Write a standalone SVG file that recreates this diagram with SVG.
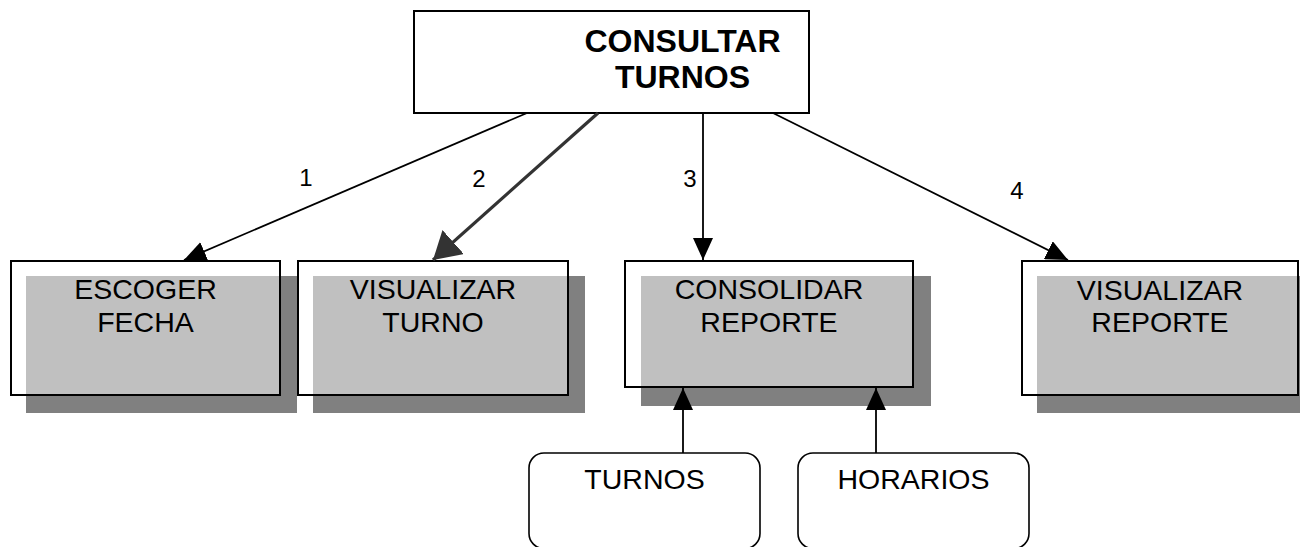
<svg xmlns="http://www.w3.org/2000/svg" width="1300" height="547" viewBox="0 0 1300 547">
<style>
  .shadow { fill: #808080; }
  .light { fill: #c0c0c0; }
  .white { fill: #ffffff; }
  .border { fill: none; stroke: #000; stroke-width: 2; }
  .rbox { fill: #fff; stroke: #000; stroke-width: 1.6; }
  .t { font-family: "Liberation Sans", Arial, sans-serif; font-size: 28.5px; fill: #000; text-anchor: middle; }
  .tb { font-family: "Liberation Sans", Arial, sans-serif; font-size: 32px; font-weight: bold; fill: #000; text-anchor: middle; }
  .lbl { font-family: "Liberation Sans", Arial, sans-serif; font-size: 24px; fill: #000; text-anchor: middle; }
  .conn { stroke: #000; stroke-width: 1.8; fill: none; }
  .conn2 { stroke: #333; stroke-width: 3.2; fill: none; }
</style>
<defs>
  <marker id="ah" markerUnits="userSpaceOnUse" viewBox="0 0 22 20" refX="22" refY="10" markerWidth="22" markerHeight="20" orient="auto">
    <path d="M0,0 L22,10 L0,20 z" fill="#000"/>
  </marker>
  <marker id="ah2" markerUnits="userSpaceOnUse" viewBox="0 0 27 32" refX="27" refY="16" markerWidth="27" markerHeight="32" orient="auto">
    <path d="M0,0 L27,16 L0,32 z" fill="#333"/>
  </marker>
</defs>
<rect width="1300" height="547" fill="#fff"/>

<g id="consultar-turnos">
  <rect x="414" y="11" width="395" height="102" class="white"/>
  <rect x="414" y="11" width="395" height="102" class="border"/>
  <text class="tb" x="682.5" y="52">CONSULTAR</text>
  <text class="tb" x="682.5" y="88">TURNOS</text>
</g>

<g id="escoger-fecha">
  <rect x="26" y="276" width="271" height="137" class="shadow"/>
  <rect x="11" y="261" width="269" height="134" class="white"/>
  <rect x="26" y="276" width="254" height="119" class="light"/>
  <rect x="11" y="261" width="269" height="134" class="border"/>
  <text class="t" x="145.5" y="299">ESCOGER</text>
  <text class="t" x="145.5" y="332">FECHA</text>
</g>

<g id="visualizar-turno">
  <rect x="313" y="276" width="272" height="137" class="shadow"/>
  <rect x="298" y="261" width="270" height="134" class="white"/>
  <rect x="313" y="276" width="255" height="119" class="light"/>
  <rect x="298" y="261" width="270" height="134" class="border"/>
  <text class="t" x="433" y="299">VISUALIZAR</text>
  <text class="t" x="433" y="332">TURNO</text>
</g>

<g id="consolidar-reporte">
  <rect x="641" y="276" width="290" height="130" class="shadow"/>
  <rect x="625" y="261" width="288" height="126" class="white"/>
  <rect x="641" y="276" width="272" height="111" class="light"/>
  <rect x="625" y="261" width="288" height="126" class="border"/>
  <text class="t" x="769" y="299">CONSOLIDAR</text>
  <text class="t" x="769" y="332">REPORTE</text>
</g>

<g id="visualizar-reporte">
  <rect x="1037" y="276" width="270" height="137" class="shadow"/>
  <rect x="1022" y="261" width="276" height="134" class="white"/>
  <rect x="1037" y="276" width="261" height="119" class="light"/>
  <rect x="1022" y="261" width="276" height="134" class="border"/>
  <text class="t" x="1160" y="300">VISUALIZAR</text>
  <text class="t" x="1160" y="332">REPORTE</text>
</g>

<g id="turnos">
  <rect x="529" y="453" width="231" height="95.5" rx="15" ry="15" class="rbox"/>
  <text class="t" x="644.5" y="489">TURNOS</text>
</g>

<g id="horarios">
  <rect x="798" y="453" width="231" height="95.5" rx="15" ry="15" class="rbox"/>
  <text class="t" x="913.5" y="489">HORARIOS</text>
</g>

<g id="connectors">
  <line x1="527" y1="113" x2="184" y2="260" class="conn" marker-end="url(#ah)"/>
  <line x1="598" y1="113" x2="433" y2="260" class="conn2" marker-end="url(#ah2)"/>
  <line x1="703" y1="113" x2="703" y2="260" class="conn" marker-end="url(#ah)"/>
  <line x1="773" y1="113" x2="1068" y2="260" class="conn" marker-end="url(#ah)"/>
  <line x1="683" y1="453" x2="683" y2="388" class="conn" marker-end="url(#ah)"/>
  <line x1="876" y1="453" x2="876" y2="388" class="conn" marker-end="url(#ah)"/>
  <text class="lbl" x="306" y="186">1</text>
  <text class="lbl" x="479" y="187">2</text>
  <text class="lbl" x="690" y="187">3</text>
  <text class="lbl" x="1017" y="199">4</text>
</g>
</svg>
